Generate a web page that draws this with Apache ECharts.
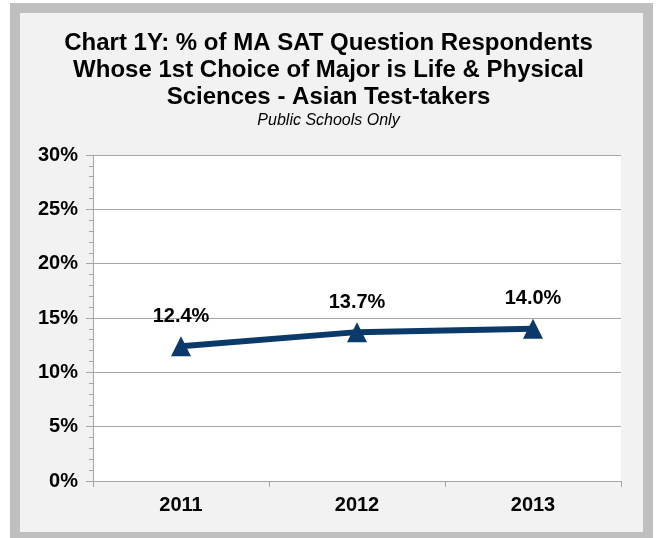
<!DOCTYPE html>
<html>
<head>
<meta charset="utf-8">
<script src="https://cdn.jsdelivr.net/npm/echarts@6/dist/echarts.min.js"></script>
<style>
	html, body { margin: 0; padding: 0; background: #fff; }
	#chart { width: 657px; height: 538px; }
</style>
</head>
<body>
<div id="chart"></div>
<script>
// 年份 / 百分比
var years = ['2011', '2012', '2013'];
var pctValues = [12.4, 13.7, 14.0];
var yTicks = [0, 5, 10, 15, 20, 25, 30];

var titleText = 'Chart 1Y: % of MA SAT Question Respondents\nWhose 1st Choice of Major is Life & Physical\nSciences - Asian Test-takers';
var subText = 'Public Schools Only';

var myChart = echarts.init(document.getElementById('chart'));
var font = 'Liberation Sans, Arial, sans-serif';
var gridGray = '#a6a6a6';
var navy = '#0b3a6a';

var options = {
	backgroundColor: '#ffffff',
	animation: false,
	// 外框
	graphic: [
		{ type: 'rect', z: -10, silent: true, shape: { x: 10, y: 3, width: 643, height: 535 }, style: { fill: '#bfbfbf' } },
		{ type: 'rect', z: -9, silent: true, shape: { x: 20, y: 13, width: 623, height: 519 }, style: { fill: '#f2f2f2' } }
	],
	title: {
		text: titleText,
		subtext: subText,
		left: 'center',
		top: 25,
		itemGap: 1,
		textStyle: { fontFamily: font, fontSize: 24, fontWeight: 'bold', color: '#000', lineHeight: 27 },
		subtextStyle: { fontFamily: font, fontSize: 16, fontStyle: 'italic', color: '#000', lineHeight: 18 }
	},
	grid: {
		left: 93, right: 36, top: 155, bottom: 57,
		show: true, backgroundColor: '#ffffff', borderWidth: 0
	},
	xAxis: {
		type: 'category',
		data: years,
		boundaryGap: true,
		axisLine: { lineStyle: { color: gridGray, width: 1 } },
		axisTick: { show: true, length: 6, alignWithLabel: false, lineStyle: { color: gridGray } },
		axisLabel: { fontFamily: font, fontSize: 20, fontWeight: 'bold', color: '#000', margin: 14 },
		splitLine: { show: false }
	},
	yAxis: {
		type: 'value',
		min: yTicks[0],
		max: yTicks[yTicks.length - 1],
		interval: 5,
		axisLine: { show: true, lineStyle: { color: gridGray, width: 1 } },
		axisTick: { show: true, length: 7, lineStyle: { color: gridGray } },
		minorTick: { show: true, splitNumber: 5, length: 4, lineStyle: { color: gridGray } },
		axisLabel: { fontFamily: font, fontSize: 20, fontWeight: 'bold', color: '#000', margin: 15, formatter: '{value}%' },
		splitLine: { show: true, lineStyle: { color: gridGray, width: 1 } }
	},
	series: [{
		type: 'line',
		data: pctValues,
		symbol: 'triangle',
		symbolSize: 20,
		showAllSymbol: true,
		lineStyle: { color: navy, width: 6 },
		itemStyle: { color: navy },
		label: {
			show: true,
			position: 'top',
			distance: 10,
			fontFamily: font,
			fontSize: 20,
			fontWeight: 'bold',
			color: '#000',
			formatter: function(p) { return p.value.toFixed(1) + '%'; }
		}
	}]
};
myChart.setOption(options);
</script>
</body>
</html>
